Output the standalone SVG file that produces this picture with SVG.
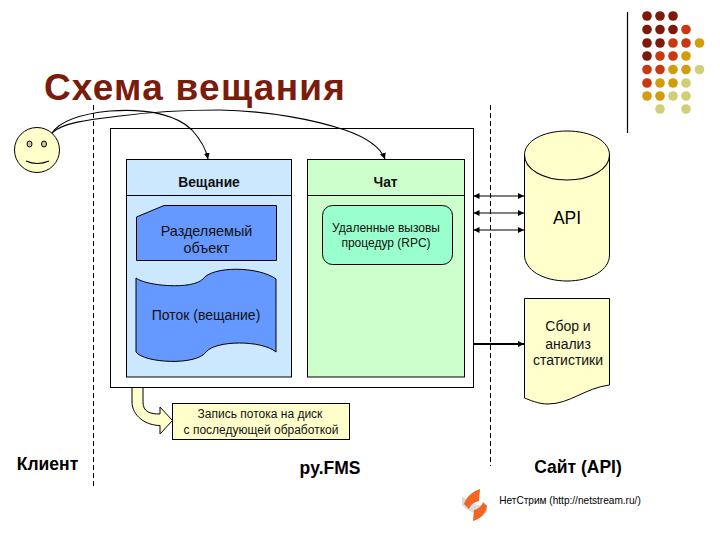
<svg xmlns="http://www.w3.org/2000/svg" width="720" height="540" viewBox="0 0 720 540">
<style>
text{font-family:"Liberation Sans",Arial,sans-serif;fill:#000;text-anchor:middle}
.s{stroke:#000;stroke-width:1}
.c{fill:none;stroke:#000;stroke-width:1.100}
.d{fill:#7e1a0a}.r{fill:#c9380e}.o{fill:#d29c0c}.l{fill:#cfcf78}
.t{font-size:14px;fill:#111}
.b{font-size:17.500px;font-weight:bold}
</style>
<defs>
<marker id="ah" markerWidth="7" markerHeight="7" refX="6" refY="3" orient="auto-start-reverse" markerUnits="userSpaceOnUse"><path d="M0,0L6,3L0,6z" fill="#000"/></marker>
</defs>
<rect width="720" height="540" fill="#fff"/>
<g id="decor">
<line x1="627.500" y1="12" x2="627.500" y2="133" stroke="#000" stroke-width="1.200"/>
<g id="dots">
<circle class="d" cx="647" cy="16" r="4.800"/><circle class="d" cx="660" cy="16" r="4.800"/><circle class="d" cx="673" cy="16" r="4.800"/>
<circle class="d" cx="647" cy="29.500" r="4.800"/><circle class="d" cx="660" cy="29.500" r="4.800"/><circle class="d" cx="673" cy="29.500" r="4.800"/><circle class="r" cx="686" cy="29.500" r="4.800"/>
<circle class="d" cx="647" cy="43" r="4.800"/><circle class="d" cx="660" cy="43" r="4.800"/><circle class="r" cx="673" cy="43" r="4.800"/><circle class="r" cx="686" cy="43" r="4.800"/><circle class="o" cx="699.500" cy="43" r="4.800"/>
<circle class="d" cx="647" cy="56" r="4.800"/><circle class="r" cx="660" cy="56" r="4.800"/><circle class="r" cx="673" cy="56" r="4.800"/><circle class="o" cx="686" cy="56" r="4.800"/>
<circle class="r" cx="647" cy="69.500" r="4.800"/><circle class="r" cx="660" cy="69.500" r="4.800"/><circle class="o" cx="673" cy="69.500" r="4.800"/><circle class="o" cx="686" cy="69.500" r="4.800"/><circle class="l" cx="699.500" cy="69.500" r="4.800"/>
<circle class="r" cx="647" cy="83" r="4.800"/><circle class="o" cx="660" cy="83" r="4.800"/><circle class="o" cx="673" cy="83" r="4.800"/><circle class="l" cx="686" cy="83" r="4.800"/>
<circle class="o" cx="647" cy="96" r="4.800"/><circle class="o" cx="660" cy="96" r="4.800"/><circle class="l" cx="673" cy="96" r="4.800"/><circle class="l" cx="686" cy="96" r="4.800"/>
<circle class="l" cx="660" cy="109" r="4.800"/><circle class="l" cx="686" cy="109" r="4.800"/>
</g>
<text x="195" y="100" style="font-size:37px;font-weight:bold;fill:#7a1c0c;letter-spacing:1.250px">Схема вещания</text>
<line x1="93.500" y1="105" x2="93.500" y2="486" stroke="#000" stroke-dasharray="5 3"/>
<line x1="490.500" y1="105" x2="490.500" y2="466" stroke="#000" stroke-dasharray="5 3"/>
</g>
<g id="server"><rect x="110.500" y="128.500" width="363" height="259" fill="#fff" class="s"/></g>
<g id="broadcast">
<rect x="126.500" y="159.500" width="165" height="217.500" fill="#cce8ff" class="s"/>
<line x1="126.500" y1="195.500" x2="291.500" y2="195.500" class="s"/>
<text x="209" y="187" style="font-size:13.800px;font-weight:bold;fill:#111">Вещание</text>
</g>
<g id="chat">
<rect x="307.500" y="159.500" width="157" height="217.500" fill="#ccffcc" class="s"/>
<line x1="307.500" y1="195.500" x2="464.500" y2="195.500" class="s"/>
<text x="385.500" y="187" style="font-size:13.800px;font-weight:bold;fill:#111">Чат</text>
</g>
<g id="shared">
<path d="M136.500,217L164,205.500H276.500V260.500H136.500z" fill="#6699ff" class="s"/>
<text class="t" x="206.500" y="236" style="font-size:14.400px">Разделяемый</text><text class="t" x="206.500" y="253" style="font-size:14.400px">объект</text>
</g>
<g id="stream">
<path d="M136,278C146,286 192,290 203,279C212,266 258,266 276,279V352C262,340 216,340 206,352C196,366 144,363 136,352z" fill="#6699ff" class="s"/>
<text class="t" x="206" y="320">Поток (вещание)</text>
</g>
<g id="rpc">
<rect x="322.500" y="205.500" width="130" height="59" rx="10" fill="#99ffcc" class="s"/>
<text x="386" y="232" style="font-size:12px;fill:#111">Удаленные вызовы</text><text x="386" y="247" style="font-size:12px;fill:#111">процедур (RPC)</text>
</g>
<g id="face">
<circle cx="37" cy="150" r="22.500" fill="#ffffcc" stroke="#000"/>
<ellipse cx="29.500" cy="144" rx="2.500" ry="3" fill="#cccc99" stroke="#000"/>
<ellipse cx="44" cy="144" rx="2.500" ry="3" fill="#cccc99" stroke="#000"/>
<path d="M26,161Q37,166 49,161" class="c"/>
</g>
<g id="api">
<path d="M524.500,155C524.500,141 543,131 567,131C591,131 609.500,141 609.500,155V255C609.500,270 591,281 567,281C543,281 524.500,270 524.500,255z" fill="#ffffcc" class="s"/>
<path d="M524.500,155C524.500,169 543,180 567,180C591,180 609.500,169 609.500,155" class="c"/>
<text x="567" y="224" style="font-size:17.500px">API</text>
</g>
<g id="stats">
<path d="M524.500,298.500H609.500V385C585,388 570,404 548,404C538,404 530,400 524.500,398z" fill="#ffffcc" class="s"/>
<text class="t" x="568" y="331">Сбор и</text><text class="t" x="568" y="349">анализ</text><text class="t" x="568" y="365">статистики</text>
</g>
<g id="record">
<rect x="172.500" y="403.500" width="177" height="36" fill="#ffffcc" class="s"/>
<text x="260" y="418" style="font-size:12px;fill:#111">Запись потока на диск</text><text x="261" y="434" style="font-size:12px;fill:#111">с последующей обработкой</text>
</g>
<g id="labels">
<text class="b" x="47.500" y="470">Клиент</text>
<text class="b" x="330" y="474">py.FMS</text>
<text class="b" x="578" y="473">Сайт (API)</text>
<text x="570" y="504" style="font-size:10.100px">НетСтрим (http://netstream.ru/)</text>
</g>
<g id="logo">
<path d="M462,496C470,503 478,507 487,505L487,513C479,516 468,512 462,505z" fill="#dcdcdc"/>
<path d="M464,504C466,497 473,491 480,489L479,501C475,502 471,504 469,509z" fill="#f26522"/>
<path d="M487,506C486,514 480,519 473,521L474,510C478,509 482,506 483,502z" fill="#f26522"/>
</g>
<g id="connectors">
<path d="M52,133C62,118 90,113 110,111C150,108 178,116 192,130C201,140 206,149 208,159" class="c" marker-end="url(#ah)"/>
<path d="M52,133C62,122 95,119 120,116C150,112 190,110 220,110C270,111 315,120 345,130C365,137 380,146 385,159" class="c" marker-end="url(#ah)"/>
<path d="M473.500,196H524" class="c" marker-start="url(#ah)" marker-end="url(#ah)"/>
<path d="M473.500,213H524" class="c" marker-start="url(#ah)" marker-end="url(#ah)"/>
<path d="M473.500,230H524" class="c" marker-start="url(#ah)" marker-end="url(#ah)"/>
<path d="M473.500,344H524" fill="none" stroke="#000" stroke-width="2" marker-end="url(#ah)"/>
<path d="M132,387.500V402C132,416 146,425.500 160,425.500V434L172.500,420.500L160,407V414C150,414 143,412 143,402V387.500z" fill="#ffffcc" class="s"/>
</g>
</svg>
